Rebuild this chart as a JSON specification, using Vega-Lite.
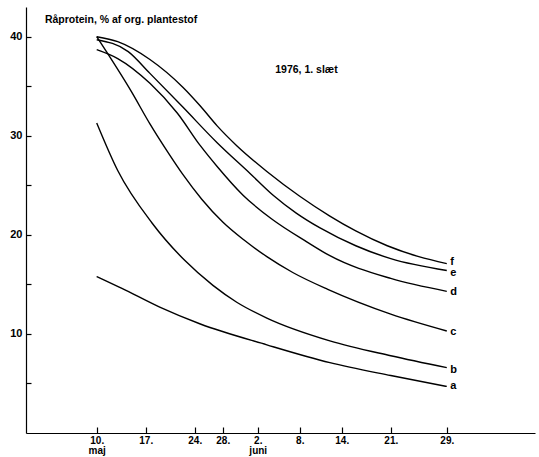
{
  "$schema": "https://vega.github.io/schema/vega-lite/v6.json",
  "width": 509,
  "height": 426,
  "autosize": {"type": "none"},
  "padding": {"left": 26, "top": 7, "right": 4, "bottom": 24},
  "background": "white",
  "config": {
    "view": {"stroke": null},
    "axis": {"grid": false, "domainColor": "black", "tickColor": "black", "labelColor": "black", "labelFont": "Liberation Sans", "labelFontWeight": "bold", "labelFontSize": 11, "domainWidth": 1.2, "tickWidth": 1.2}
  },
  "datasets": {
    "curves": [
      {"s": "f", "d": 0, "v": 40.0}, {"s": "f", "d": 3, "v": 39.5}, {"s": "f", "d": 7.6, "v": 37.7}, {"s": "f", "d": 12.3, "v": 34.9}, {"s": "f", "d": 14.8, "v": 33.0}, {"s": "f", "d": 17.2, "v": 31.0}, {"s": "f", "d": 20, "v": 29.0}, {"s": "f", "d": 24.3, "v": 26.4}, {"s": "f", "d": 29, "v": 23.9}, {"s": "f", "d": 33.3, "v": 21.9}, {"s": "f", "d": 37, "v": 20.4}, {"s": "f", "d": 41.5, "v": 18.9}, {"s": "f", "d": 46, "v": 17.8}, {"s": "f", "d": 50, "v": 17.1},
      {"s": "e", "d": 0, "v": 39.7}, {"s": "e", "d": 4.5, "v": 38.5}, {"s": "e", "d": 7.6, "v": 36.3}, {"s": "e", "d": 12.3, "v": 32.9}, {"s": "e", "d": 17.2, "v": 29.3}, {"s": "e", "d": 21.9, "v": 26.2}, {"s": "e", "d": 25.2, "v": 24.0}, {"s": "e", "d": 28.5, "v": 22.2}, {"s": "e", "d": 31.9, "v": 20.7}, {"s": "e", "d": 37, "v": 18.9}, {"s": "e", "d": 42, "v": 17.6}, {"s": "e", "d": 50, "v": 16.4},
      {"s": "d", "d": 0, "v": 38.7}, {"s": "d", "d": 3, "v": 37.8}, {"s": "d", "d": 7.6, "v": 35.3}, {"s": "d", "d": 11.5, "v": 32.3}, {"s": "d", "d": 14.8, "v": 29.0}, {"s": "d", "d": 17.2, "v": 26.9}, {"s": "d", "d": 20.9, "v": 24.0}, {"s": "d", "d": 25, "v": 21.6}, {"s": "d", "d": 30, "v": 19.3}, {"s": "d", "d": 33.3, "v": 17.9}, {"s": "d", "d": 42, "v": 15.6}, {"s": "d", "d": 50, "v": 14.3},
      {"s": "c", "d": 0, "v": 40.0}, {"s": "c", "d": 5, "v": 34.4}, {"s": "c", "d": 7.6, "v": 31.2}, {"s": "c", "d": 10.2, "v": 28.3}, {"s": "c", "d": 12.3, "v": 26.1}, {"s": "c", "d": 15, "v": 23.6}, {"s": "c", "d": 18, "v": 21.3}, {"s": "c", "d": 21, "v": 19.5}, {"s": "c", "d": 24.3, "v": 17.8}, {"s": "c", "d": 28, "v": 16.2}, {"s": "c", "d": 33, "v": 14.5}, {"s": "c", "d": 42, "v": 12.0}, {"s": "c", "d": 50, "v": 10.3},
      {"s": "b", "d": 0, "v": 31.3}, {"s": "b", "d": 3, "v": 26.5}, {"s": "b", "d": 7.9, "v": 21.2}, {"s": "b", "d": 12.6, "v": 17.4}, {"s": "b", "d": 16.6, "v": 14.9}, {"s": "b", "d": 20, "v": 13.2}, {"s": "b", "d": 24.3, "v": 11.6}, {"s": "b", "d": 33.3, "v": 9.3}, {"s": "b", "d": 42, "v": 7.8}, {"s": "b", "d": 50, "v": 6.6},
      {"s": "a", "d": 0, "v": 15.8}, {"s": "a", "d": 3.6, "v": 14.6}, {"s": "a", "d": 9, "v": 12.7}, {"s": "a", "d": 14.8, "v": 11.0}, {"s": "a", "d": 24.3, "v": 8.9}, {"s": "a", "d": 33.3, "v": 7.1}, {"s": "a", "d": 42, "v": 5.8}, {"s": "a", "d": 50, "v": 4.7}
    ],
    "labels": [
      {"t": "a", "d": 50.5, "v": 4.74},
      {"t": "b", "d": 50.5, "v": 6.36},
      {"t": "c", "d": 50.5, "v": 10.2},
      {"t": "d", "d": 50.5, "v": 14.2},
      {"t": "e", "d": 50.5, "v": 16.15},
      {"t": "f", "d": 50.5, "v": 17.3}
    ],
    "notes": [
      {"t": "Råprotein, % af org. plantestof", "d": -7.4, "v": 41.7},
      {"t": "1976, 1. slæt", "d": 25.5, "v": 36.6}
    ]
  },
  "layer": [
    {
      "data": {"name": "curves"},
      "mark": {"type": "line", "interpolate": "monotone", "color": "black", "strokeWidth": 1.4},
      "encoding": {
        "x": {"field": "d", "type": "quantitative", "scale": {"domain": [-10.1, 62.6], "nice": false, "zero": false},
          "axis": {"title": null, "values": [0, 7, 14, 18, 23, 29, 35, 42, 50], "tickSize": -6, "labelPadding": 8, "labelFontSize": 10, "labelLineHeight": 10,
            "labelExpr": "datum.value == 0 ? ['10.', 'maj'] : datum.value == 7 ? '17.' : datum.value == 14 ? '24.' : datum.value == 18 ? '28.' : datum.value == 23 ? ['2.', 'juni'] : datum.value == 29 ? '8.' : datum.value == 35 ? '14.' : datum.value == 42 ? '21.' : '29.'"}},
        "y": {"field": "v", "type": "quantitative", "scale": {"domain": [0, 43], "nice": false},
          "axis": {"title": null, "values": [5, 10, 15, 20, 25, 30, 35, 40], "tickSize": -5, "labelPadding": 9,
            "labelExpr": "datum.value % 10 == 0 ? datum.label : ''"}},
        "detail": {"field": "s"}
      }
    },
    {
      "data": {"name": "labels"},
      "mark": {"type": "text", "align": "left", "baseline": "middle", "font": "Liberation Sans", "fontWeight": "bold", "fontSize": 11, "color": "black"},
      "encoding": {
        "x": {"field": "d", "type": "quantitative"},
        "y": {"field": "v", "type": "quantitative"},
        "text": {"field": "t"}
      }
    },
    {
      "data": {"name": "notes"},
      "mark": {"type": "text", "align": "left", "baseline": "middle", "font": "Liberation Sans", "fontWeight": "bold", "fontSize": 10.5, "color": "black"},
      "encoding": {
        "x": {"field": "d", "type": "quantitative"},
        "y": {"field": "v", "type": "quantitative"},
        "text": {"field": "t"}
      }
    }
  ]
}
